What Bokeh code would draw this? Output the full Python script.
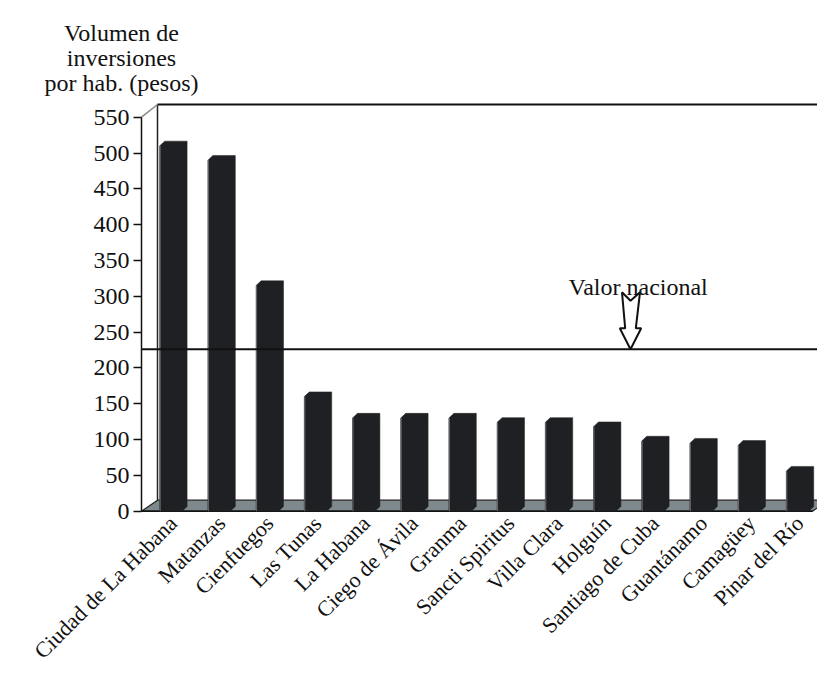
import math
from bokeh.plotting import figure
from bokeh.models import Range1d, FixedTicker, Label
from bokeh.embed import file_html
from bokeh.resources import INLINE

# ---------------- data ----------------
provincias = ["Ciudad de La Habana", "Matanzas", "Cienfuegos", "Las Tunas",
              "La Habana", "Ciego de Ávila", "Granma", "Sancti Spiritus",
              "Villa Clara", "Holguín", "Santiago de Cuba", "Guantánamo",
              "Camagüey", "Pinar del Río"]
inversion = [510, 490, 315, 160, 130, 130, 130, 124, 124, 118, 98, 95, 92, 56]
valor_nacional = 226
y_ticks = [0, 50, 100, 150, 200, 250, 300, 350, 400, 450, 500, 550]
titulo_y = ["Volumen de", "inversiones", "por hab. (pesos)"]
texto_nacional = "Valor nacional"

# ---------------- style / geometry (pixels) ----------------
FONT = "Liberation Serif"
FS = "24px"
FS_X = "22px"
W, H = 817, 672
PX_X = 48.2      # pixels per category step
PX_Y = 0.7164    # pixels per value unit
X_ORIG = 172.7   # pixel x of first category
Y_ORIG = 510.7   # pixel y of value 0
def ux(px):      # pixel x -> data x
    return (px - X_ORIG) / PX_X
def uy(py):      # pixel y -> data y
    return (Y_ORIG - py) / PX_Y

X0, X1 = ux(0), ux(W)
Y0, Y1 = uy(H), uy(0)
AXIS_X = ux(141)
BAR_COLOR = "#1e2023"

p = figure(width=W, height=H, x_range=Range1d(X0, X1), y_range=Range1d(Y0, Y1),
           output_backend="svg", toolbar_location=None,
           min_border=0, min_border_left=0, min_border_right=0,
           min_border_top=0, min_border_bottom=0)
p.title.visible = False
p.outline_line_color = None
p.grid.visible = False
p.background_fill_color = "white"
p.border_fill_color = "white"

# 3D box (floor + back wall)
wall_dx = 16 / PX_X
top_dy = 12.7 / PX_Y
floor_dy = 11 / PX_Y
ymax = y_ticks[-1]
wall_x = AXIS_X + wall_dx
right_front = ux(812)

p.patch([AXIS_X, right_front, right_front + wall_dx, wall_x],
        [0, 0, floor_dy, floor_dy],
        fill_color="#7d898c", line_color="#222222", line_width=1.2)
p.line([AXIS_X, right_front], [0, 0], line_color="#111111", line_width=1.5)
p.line([wall_x, wall_x], [floor_dy, ymax + top_dy], line_color="#222222", line_width=1.5)
p.line([wall_x, X1 + 1], [ymax + top_dy, ymax + top_dy], line_color="#111111", line_width=2)
p.line([AXIS_X, wall_x], [ymax, ymax + top_dy], line_color="#888888", line_width=1.5)

# bars (3D prisms)
half = 0.28
front_w = 22.4 / PX_X
d_x = 5 / PX_X
d_y = 4.7 / PX_Y
xs, ys = [], []
for i, v in enumerate(inversion):
    xl = i - half
    xr = xl + front_w
    xs.append([xl, xl, xl + d_x, xr + d_x, xr + d_x, xr])
    ys.append([0, v, v + d_y, v + d_y, d_y, 0])
p.patches(xs, ys, fill_color=BAR_COLOR, line_color=BAR_COLOR, line_width=0.5)
p.segment(x0=[i - half + 0.01 for i in range(len(inversion))], y0=[0] * len(inversion),
          x1=[i - half + 0.01 for i in range(len(inversion))], y1=inversion,
          line_color="#6a6a6a", line_width=1)

# national value line
p.segment(x0=[AXIS_X], y0=[valor_nacional], x1=[X1 + 1], y1=[valor_nacional],
          line_color="#111111", line_width=2)

# hollow arrow
tip_x = ux(630)
arrow_px = [(-8.5, 57), (0, 48.5), (9.5, 57), (5.3, 21), (10.7, 21), (0, 0),
            (-10.7, 21), (-5.3, 21)]
p.patch([tip_x + dx / PX_X for dx, dy in arrow_px],
        [valor_nacional + dy / PX_Y for dx, dy in arrow_px],
        fill_color="white", line_color="#111111", line_width=2)

p.add_layout(Label(x=ux(568), y=uy(286), text=texto_nacional,
                   text_font=FONT, text_font_size=FS, text_color="#111111",
                   text_align="left", text_baseline="alphabetic"))

# y axis title
for line, base in zip(titulo_y, [32.3, 57.3, 82.5]):
    p.add_layout(Label(x=ux(121), y=uy(base), text=line,
                       text_font=FONT, text_font_size=FS, text_color="#111111",
                       text_align="center", text_baseline="alphabetic"))

# axes (placed at fixed data locations)
p.yaxis.fixed_location = AXIS_X
p.yaxis.ticker = FixedTicker(ticks=y_ticks)
p.yaxis.bounds = (0, ymax)
p.yaxis.axis_line_color = "#111111"
p.yaxis.axis_line_width = 1.5
p.yaxis.major_tick_line_color = "#111111"
p.yaxis.major_tick_line_width = 1.5
p.yaxis.major_tick_in = 0
p.yaxis.major_tick_out = 8
p.yaxis.minor_tick_line_color = None
p.yaxis.major_label_standoff = 4
p.yaxis.major_label_text_font = FONT
p.yaxis.major_label_text_font_size = FS
p.yaxis.major_label_text_color = "#111111"

p.xaxis.fixed_location = uy(511)
p.xaxis.ticker = FixedTicker(ticks=list(range(len(provincias))))
p.xaxis.major_label_overrides = {i: name for i, name in enumerate(provincias)}
p.xaxis.major_label_orientation = math.pi / 4
p.xaxis.axis_line_color = None
p.xaxis.major_tick_line_color = None
p.xaxis.major_tick_in = 0
p.xaxis.major_tick_out = 0
p.xaxis.minor_tick_line_color = None
p.xaxis.major_label_standoff = 8
p.xaxis.major_label_text_font = FONT
p.xaxis.major_label_text_font_size = FS_X
p.xaxis.major_label_text_color = "#111111"

open("out.html", "w").write(file_html(p, INLINE))
